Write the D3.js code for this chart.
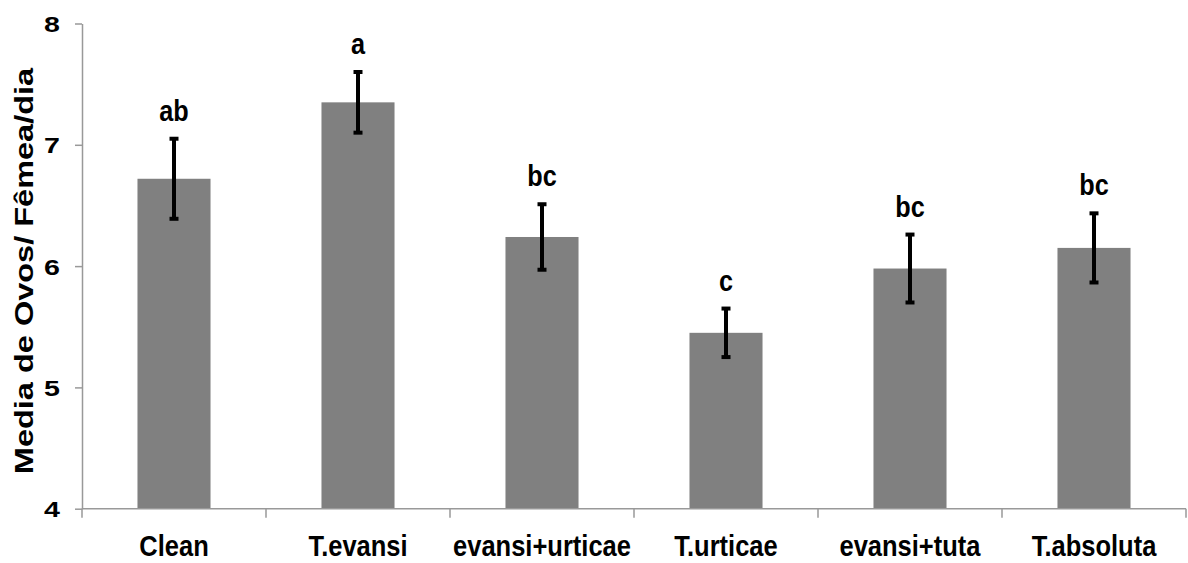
<!DOCTYPE html>
<html>
<head>
<meta charset="utf-8">
<script src="https://cdn.jsdelivr.net/npm/d3@7"></script>
<style>
  html, body { margin: 0; padding: 0; background: #fff; }
  svg { display: block; }
  text { font-family: "Liberation Sans", Arial, sans-serif; font-weight: bold; fill: #000; }
</style>
</head>
<body>
<svg id="chart" width="1188" height="563"></svg>
<script>
const categories = ["Clean", "T.evansi", "evansi+urticae", "T.urticae", "evansi+tuta", "T.absoluta"];
const means = [6.72, 7.35, 6.24, 5.45, 5.98, 6.15];
const errors = [0.33, 0.25, 0.27, 0.20, 0.28, 0.285];
const letters = ["ab", "a", "bc", "c", "bc", "bc"];
const yTicks = [4, 5, 6, 7, 8];
const yTitle = "Media de Ovos/ Fêmea/dia";

const svg = d3.select("#chart");
const mLeft = 82, mRight = 1186, mTop = 23.5, mBottom = 508.7;

const x = d3.scaleBand().domain(categories).range([mLeft, mRight]).paddingInner(0.603).paddingOuter(0.3015);
const xb = d3.scaleBand().domain(categories).range([mLeft, mRight]);
const y = d3.scaleLinear().domain([4, 8]).range([mBottom, mTop]);

// bars
svg.append("g").selectAll("rect").data(categories).join("rect")
  .attr("x", d => x(d))
  .attr("width", x.bandwidth())
  .attr("y", (d, i) => y(means[i]))
  .attr("height", (d, i) => y(4) - y(means[i]))
  .attr("fill", "#808080");

// y axis
const yAxis = svg.append("g").attr("transform", `translate(${mLeft},0)`)
  .call(d3.axisLeft(y).tickValues(yTicks).tickSize(7).tickSizeOuter(0).tickFormat(d3.format("d")));
yAxis.select(".domain").attr("stroke", "#999").attr("stroke-width", 1.5);
yAxis.selectAll(".tick line").attr("stroke", "#999").attr("stroke-width", 1.5);
yAxis.selectAll(".tick text").remove();
yAxis.selectAll(".tick").append("text")
  .attr("text-anchor", "end")
  .attr("transform", "translate(-22,8) scale(1.3,1)")
  .style("font-size", "22px")
  .attr("fill", "#000")
  .text(d => d);

// x axis
const xAxis = svg.append("g").attr("transform", `translate(0,${mBottom})`);
xAxis.append("line").attr("x1", mLeft).attr("x2", mRight).attr("y1", 0).attr("y2", 0)
  .attr("stroke", "#999").attr("stroke-width", 1.5);
const bounds = categories.map(c => xb(c)).concat([mRight]);
xAxis.selectAll("line.tk").data(bounds).join("line").attr("class", "tk")
  .attr("x1", d => d).attr("x2", d => d).attr("y1", 0).attr("y2", 9)
  .attr("stroke", "#999").attr("stroke-width", 1.5);
xAxis.selectAll("text").data(categories).join("text")
  .attr("text-anchor", "middle")
  .attr("transform", d => `translate(${xb(d) + xb.bandwidth() / 2},47) scale(0.85,1)`)
  .style("font-size", "30px")
  .text(d => d);

// error bars
const eg = svg.append("g").attr("stroke", "#000").attr("stroke-width", 4);
categories.forEach((c, i) => {
  const cx = x(c) + x.bandwidth() / 2;
  const hi = y(means[i] + errors[i]), lo = y(means[i] - errors[i]);
  eg.append("line").attr("x1", cx).attr("x2", cx).attr("y1", hi).attr("y2", lo);
  eg.append("line").attr("x1", cx - 4.5).attr("x2", cx + 4.5).attr("y1", hi).attr("y2", hi);
  eg.append("line").attr("x1", cx - 4.5).attr("x2", cx + 4.5).attr("y1", lo).attr("y2", lo);
});

// significance letters
svg.append("g").selectAll("text").data(categories).join("text")
  .attr("text-anchor", "middle")
  .attr("transform", (d, i) => `translate(${x(d) + x.bandwidth() / 2},${y(means[i] + errors[i]) - 18}) scale(0.87,1)`)
  .style("font-size", "29px")
  .text((d, i) => letters[i]);

// y title
svg.append("text")
  .attr("text-anchor", "middle")
  .attr("transform", "translate(33,271) rotate(-90) scale(1.25,1)")
  .style("font-size", "26px")
  .text(yTitle);
</script>
</body>
</html>
